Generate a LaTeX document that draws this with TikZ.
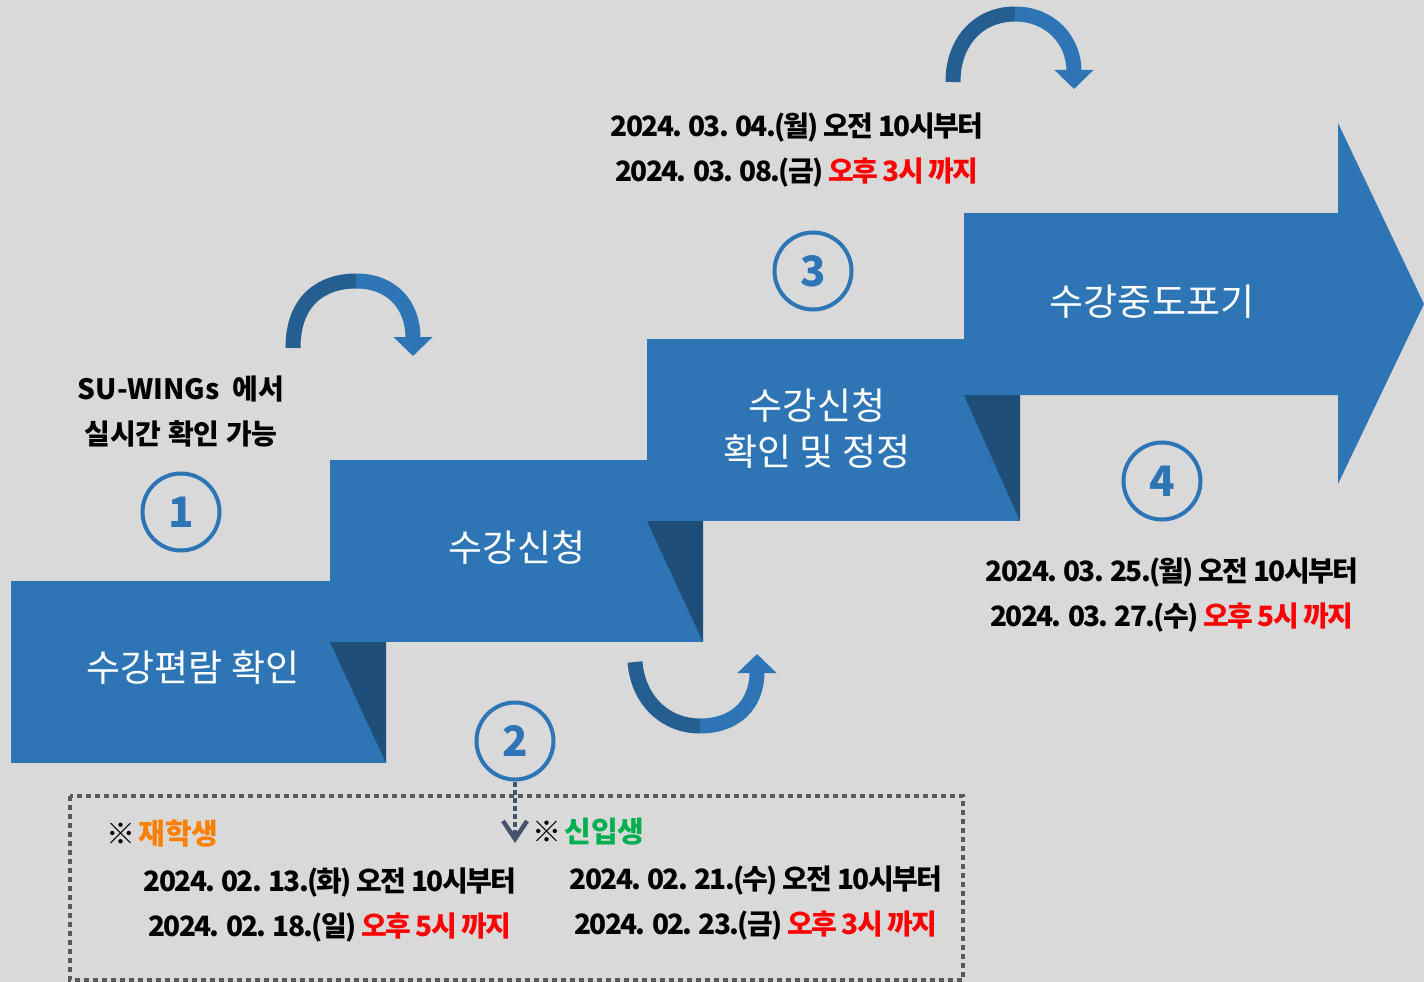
\documentclass[tikz,border=0pt]{standalone}
\usepackage{fontspec}
\setmainfont{Noto Sans CJK KR}
\usepackage{tikz}
\usetikzlibrary{arrows.meta}

\definecolor{bggray}{HTML}{D9D9D9}
\definecolor{stepblue}{HTML}{2E75B6}
\definecolor{folddark}{HTML}{1F4E79}
\definecolor{benddark}{HTML}{255E91}
\definecolor{slate}{HTML}{44546A}
\definecolor{boxgray}{HTML}{595959}
\definecolor{oldorange}{HTML}{FF7F00}
\definecolor{newgreen}{HTML}{00B050}
\definecolor{untilred}{HTML}{FF0000}

\tikzset{
	steplabel/.style={text=white, align=center, font=\fontsize{37}{46}\selectfont},
	numcircle/.style={circle, draw=stepblue, line width=4pt, minimum size=77pt, inner sep=0pt,
		text=stepblue, font=\bfseries\fontsize{42}{42}\selectfont},
	datetext/.style={align=center, font=\bfseries\fontsize{28}{45}\selectfont\addfontfeature{LetterSpace=-6}},
	notetext/.style={align=center, font=\bfseries\fontsize{28}{45}\selectfont},
	headtext/.style={anchor=west, font=\bfseries\fontsize{29}{29}\selectfont},
	bendline/.style={line width=15pt},
	bendtip/.style={-{Triangle[length=19pt,width=38pt]}},
	dotbox/.style={draw=boxgray, line width=4.5pt, dash pattern=on 5pt off 4pt},
	dasharrow/.style={draw=slate, line width=4pt, dash pattern=on 5pt off 3pt,
		-{Straight Barb[length=18pt,width=24pt,line width=4.5pt]}}
}

\begin{document}
\begin{tikzpicture}[x=1pt,y=-1pt]
		\useasboundingbox (0,0) rectangle (1424,982);
		\fill[bggray] (0,0) rectangle (1424,982);

		% steps
		\fill[stepblue] (11,581) rectangle (386,763);
		\fill[folddark] (330,642) -- (386,642) -- (386,763) -- cycle;
		\fill[stepblue] (330,460) rectangle (703,642);
		\fill[folddark] (647,521) -- (703,521) -- (703,642) -- cycle;
		\fill[stepblue] (647,339) rectangle (1020,521);
		\fill[folddark] (964,395) -- (1020,395) -- (1020,521) -- cycle;
		\fill[stepblue] (964,213) -- (1338,213) -- (1338,123) -- (1424,304)
			-- (1338,484) -- (1338,395) -- (964,395) -- cycle;

		\node[steplabel] (s1) at (193,668) {수강편람 확인};
		\node[steplabel] (s2) at (517,548) {수강신청};
		\node[steplabel] (s3) at (817,429) {수강신청\\확인 및 정정};
		\node[steplabel] (s4) at (1152,302) {수강중도포기};

		\node[numcircle] (n1) at (181,512) {1};
		\node[numcircle] (n2) at (515,741) {2};
		\node[numcircle] (n3) at (813,271) {3};
		\node[numcircle] (n4) at (1162,481) {4};

		% bent arrows
		\draw[benddark, bendline] (293,348) .. controls (293,300) and (322,281) .. (356,281);
		\draw[stepblue, bendline, bendtip] (356,281) .. controls (392,281) and (413,305) .. (413,356);
		\draw[benddark, bendline] (953,82) .. controls (953,40) and (980,14) .. (1015,14);
		\draw[stepblue, bendline, bendtip] (1015,14) .. controls (1050,14) and (1074,40) .. (1074,89);
		\draw[benddark, bendline] (635,662) .. controls (638,700) and (665,726) .. (700,726);
		\draw[stepblue, bendline, bendtip] (700,726) .. controls (735,726) and (757,705) .. (757,654);

		\node[notetext] (note1) at (181,412) {SU-WINGs\ \ 에서\\실시간 확인 가능};
		\node[datetext] (d3) at (797,150) {2024. 03. 04.(월) 오전 10시부터\\2024. 03. 08.(금) \textcolor{untilred}{오후 3시 까지}};
		\node[datetext] (d4) at (1172,595) {2024. 03. 25.(월) 오전 10시부터\\2024. 03. 27.(수) \textcolor{untilred}{오후 5시 까지}};

		% box
		\draw[dotbox] (70,796) rectangle (963,980);
		\node[headtext] (h1) at (103,834) {※\hspace{3pt}\textcolor{oldorange}{재학생}};
		\node[datetext] (d1) at (330,905) {2024. 02. 13.(화) 오전 10시부터\\2024. 02. 18.(일) \textcolor{untilred}{오후 5시 까지}};
		\node[headtext] (h2) at (529,832) {※\hspace{3pt}\textcolor{newgreen}{신입생}};
		\node[datetext] (d2) at (756,903) {2024. 02. 21.(수) 오전 10시부터\\2024. 02. 23.(금) \textcolor{untilred}{오후 3시 까지}};

		\coordinate (tip) at (515,843);
		\draw[dasharrow] (n2) -- (tip);
	\end{tikzpicture}
\end{document}
